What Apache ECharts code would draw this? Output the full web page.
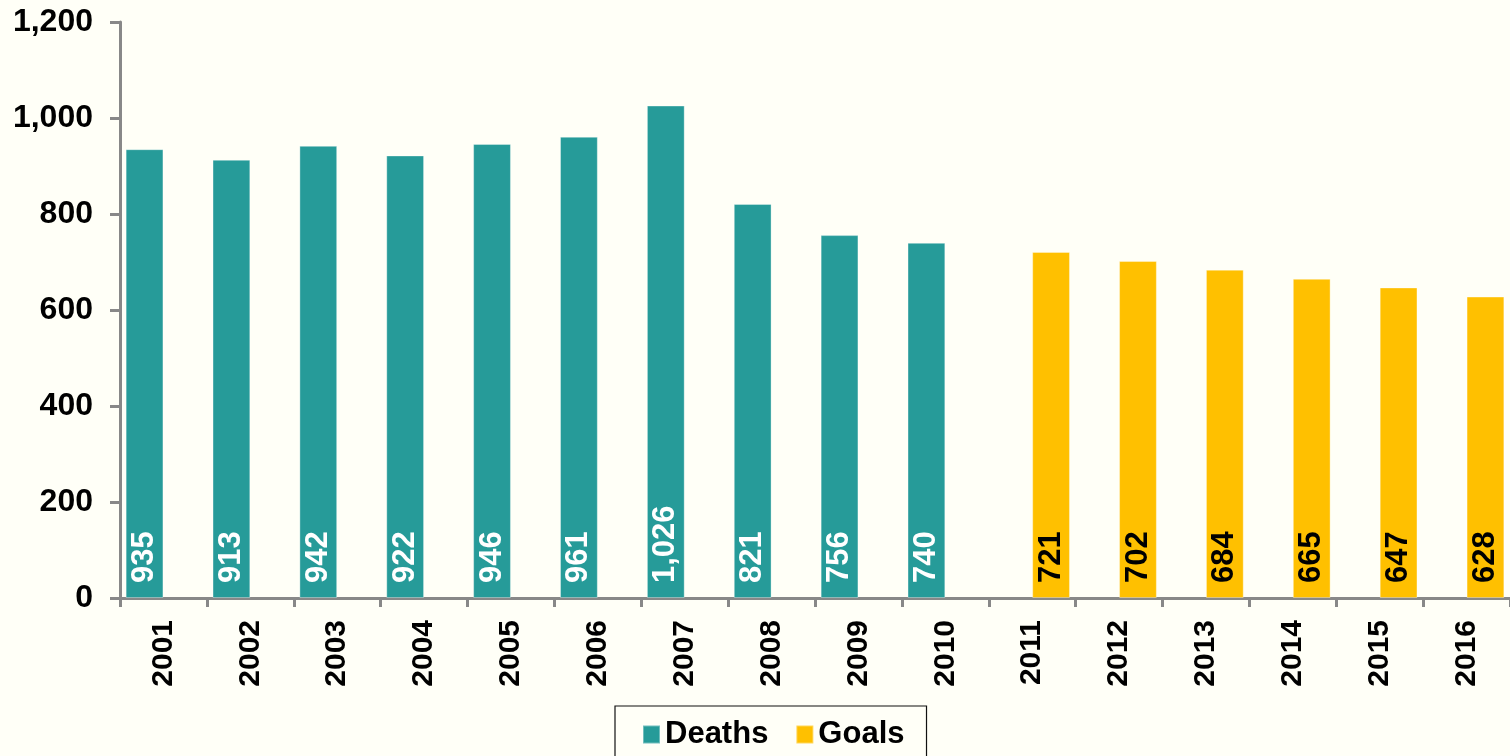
<!DOCTYPE html>
<html>
<head>
<meta charset="utf-8">
<script src="https://cdn.jsdelivr.net/npm/echarts@6/dist/echarts.min.js"></script>
<style>
html,body{margin:0;padding:0;background:#FFFFF7;}
#c{width:1510px;height:756px;}
</style>
</head>
<body>
<div id="c"></div>
<script>
var years = ['2001','2002','2003','2004','2005','2006','2007','2008','2009','2010','2011','2012','2013','2014','2015','2016'];
var deaths = [935, 913, 942, 922, 946, 961, 1026, 821, 756, 740, null, null, null, null, null, null];
var goals = [null, null, null, null, null, null, null, null, null, null, 721, 702, 684, 665, 647, 628];
var yTicks = [0, 200, 400, 600, 800, 1000, 1200];

var FONT = '"Liberation Sans", Arial, Helvetica, sans-serif';
function fmt(v){ return Number(v).toLocaleString('en-US'); }

var chart = echarts.init(document.getElementById('c'), null, {renderer:'canvas'});
var labelBase = {
  show: true,
  position: 'insideBottom',
  rotate: 90,
  align: 'left',
  verticalAlign: 'middle',
  distance: 15,
  fontFamily: FONT,
  fontWeight: 'bold',
  fontSize: 31,
  formatter: function(p){ return fmt(p.value); }
};
chart.setOption({
  backgroundColor: '#FFFFF7',
  animation: false,
  grid: {left: 120, right: -7, top: 22, bottom: 158, containLabel: false},
  legend: {
    left: 615, top: 706,
    orient: 'horizontal',
    itemWidth: 17, itemHeight: 18, itemGap: 27,
    padding: [13, 22, 30, 27],
    borderColor: '#111', borderWidth: 1.2,
    textStyle: {fontFamily: FONT, fontWeight: 'bold', fontSize: 31, color: '#000'},
    data: [{name:'Deaths', icon:'rect'}, {name:'Goals', icon:'rect'}]
  },
  xAxis: {
    type: 'category',
    data: years,
    axisLine: {lineStyle: {color: '#888', width: 3}},
    axisTick: {show: true, alignWithLabel: false, length: 9, lineStyle: {color: '#888', width: 3}},
    axisLabel: {rotate: 90, margin: 22, interval: 0, fontFamily: FONT, fontWeight: 'bold', fontSize: 30, color: '#000'}
  },
  yAxis: {
    type: 'value',
    min: yTicks[0], max: yTicks[yTicks.length-1], interval: 200,
    axisLine: {show: true, lineStyle: {color: '#888', width: 3}},
    axisTick: {show: true, length: 10, lineStyle: {color: '#888', width: 3}},
    splitLine: {show: false},
    axisLabel: {margin: 27, fontFamily: FONT, fontWeight: 'bold', fontSize: 32, color: '#000', formatter: function(v){ return fmt(v); }}
  },
  series: [
    {
      name: 'Deaths', type: 'bar', data: deaths,
      barGap: '0%', barCategoryGap: '13%',
      itemStyle: {color: '#269B99', borderColor: 'rgba(255,255,255,0.35)', borderWidth: 1},
      label: Object.assign({}, labelBase, {color: '#FFFFFF'})
    },
    {
      name: 'Goals', type: 'bar', data: goals,
      barGap: '0%', barCategoryGap: '13%',
      itemStyle: {color: '#FFC000', borderColor: 'rgba(255,255,255,0.35)', borderWidth: 1},
      label: Object.assign({}, labelBase, {color: '#000000'})
    }
  ]
});
</script>
</body>
</html>
